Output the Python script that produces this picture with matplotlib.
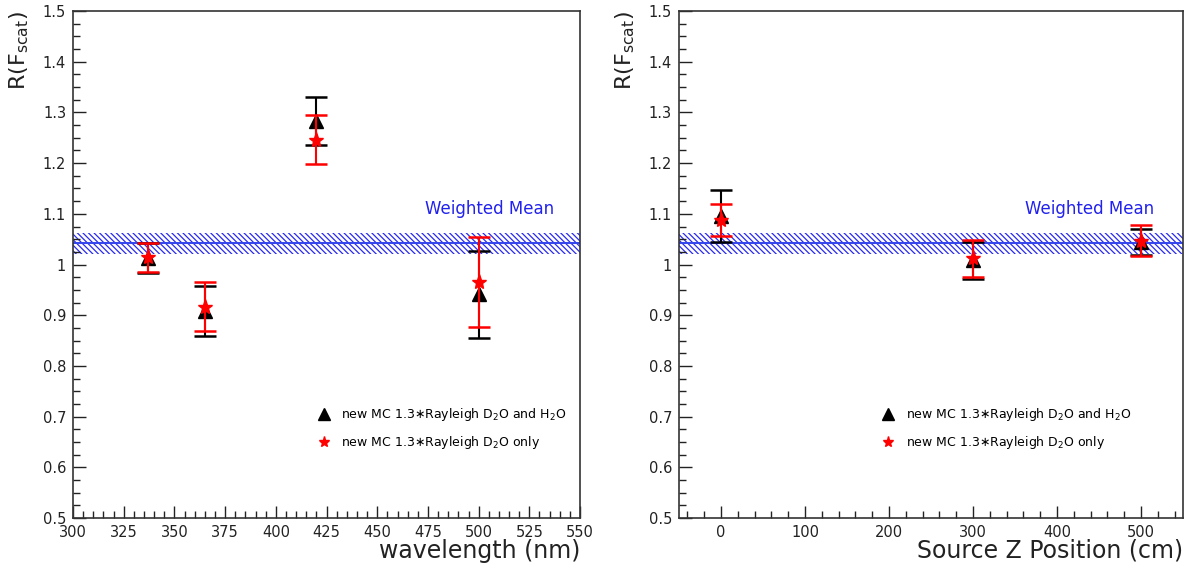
import matplotlib
matplotlib.use("Agg")
import matplotlib.pyplot as plt
from matplotlib.lines import Line2D
from matplotlib.ticker import MultipleLocator, FuncFormatter

plt.rcParams['font.family'] = ['DejaVu Sans']
plt.rcParams['hatch.linewidth'] = 0.9

# Wavelength scan
wl = [337, 365, 420, 500]
wl_both = [1.013, 0.908, 1.283, 0.941]
wl_both_err = [0.029, 0.049, 0.048, 0.086]
wl_d2o = [1.014, 0.917, 1.246, 0.965]
wl_d2o_err = [0.029, 0.049, 0.048, 0.089]

# Source position scan
zpos = [0, 300, 500]
z_both = [1.096, 1.008, 1.044]
z_both_err = [0.051, 0.036, 0.026]
z_d2o = [1.088, 1.012, 1.047]
z_d2o_err = [0.031, 0.037, 0.030]

# Weighted mean and its uncertainty band
wmean = 1.042
wmean_err = 0.021

lbl_both = "new MC 1.3\u2217Rayleigh D$_2$O and H$_2$O"
lbl_d2o = "new MC 1.3\u2217Rayleigh D$_2$O only"

fig = plt.figure(figsize=(11.95, 5.69), dpi=100)
ax1 = fig.add_axes([0.0611, 0.0896, 0.4243, 0.891])
ax2 = fig.add_axes([0.5682, 0.0896, 0.4218, 0.891])


def ylab(v, pos):
    s = f"{v:.1f}"
    return "1" if s == "1.0" else s


def draw_panel(ax, x, yb, eb, yd, ed, xlim, xmaj, xmin, xlabel, leg_x, wm_x):
    ax.set_xlim(*xlim)
    ax.set_ylim(0.5, 1.5)
    # weighted mean band
    ax.axhspan(wmean - wmean_err, wmean + wmean_err, facecolor='none',
               edgecolor='#2a2af0', hatch='\\' * 6, linewidth=0, zorder=1)
    ax.axhline(wmean, color='#3344ee', lw=1.4, zorder=1.5)
    ax.text(wm_x, 1.11, "Weighted Mean", color='#2222ee', fontsize=12,
            ha='right', va='center')

    ax.errorbar(x, yb, yerr=eb, fmt='^', color='black', ms=10, elinewidth=1.5,
                capsize=8, capthick=1.8, zorder=3)
    ax.errorbar(x, yd, yerr=ed, fmt='*', color='red', ms=11, elinewidth=1.5,
                capsize=8, capthick=1.8, zorder=4)

    ax.xaxis.set_major_locator(MultipleLocator(xmaj))
    ax.xaxis.set_minor_locator(MultipleLocator(xmin))
    ax.yaxis.set_major_locator(MultipleLocator(0.1))
    ax.yaxis.set_minor_locator(MultipleLocator(0.025))
    ax.yaxis.set_major_formatter(FuncFormatter(ylab))
    ax.xaxis.set_major_formatter(FuncFormatter(lambda v, p: f"{v:.0f}"))
    ax.tick_params(which='both', direction='in', top=False, right=False,
                   labelsize=10.5, colors='#222222', pad=5)
    ax.tick_params(which='major', length=9, width=1)
    ax.tick_params(which='minor', length=5, width=1)
    for sp in ax.spines.values():
        sp.set_color('#333333')
        sp.set_linewidth(1.2)

    ax.set_xlabel(xlabel, fontsize=17, color='#222222', loc='right',
                  labelpad=-1)
    ax.set_ylabel("R(F$_{\\rm scat}$)", fontsize=16, color='#222222',
                  loc='top', labelpad=8)

    handles = [Line2D([], [], marker='^', ls='none', color='black', ms=8),
               Line2D([], [], marker='*', ls='none', color='red', ms=8)]
    ax.legend(handles, [lbl_both, lbl_d2o], loc='upper left',
              bbox_to_anchor=(leg_x, 0.243), frameon=False, fontsize=9,
              handlelength=1.0, handletextpad=0.9, labelspacing=0.9)


draw_panel(ax1, wl, wl_both, wl_both_err, wl_d2o, wl_d2o_err,
           (300, 550), 25, 5, "wavelength (nm)", 0.46, 537)
draw_panel(ax2, zpos, z_both, z_both_err, z_d2o, z_d2o_err,
           (-50, 550), 100, 20, "Source Z Position (cm)", 0.38, 515)

fig.savefig("out.png", dpi=100)
